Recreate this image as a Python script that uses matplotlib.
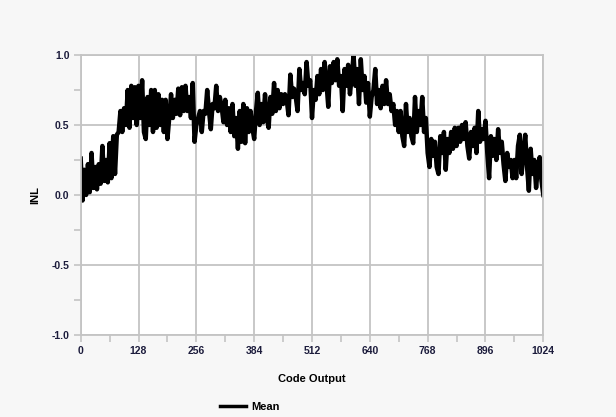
import matplotlib
matplotlib.use("Agg")
import matplotlib.pyplot as plt
from matplotlib.ticker import MultipleLocator
import numpy as np

# Code output positions (step of 4 codes) and read-off INL values
codes = list(range(0, 1025, 4))
inl = [
    0.26, -0.04, 0.18, 0.0, 0.22, 0.02, 0.3, 0.05, 0.2, 0.04, 0.22, 0.08, 0.35, 0.1, 0.25, 0.09,
    0.37, 0.12, 0.42, 0.15, 0.43, 0.45, 0.6, 0.45, 0.62, 0.5, 0.75, 0.48, 0.78, 0.55, 0.77, 0.5,
    0.78, 0.55, 0.82, 0.45, 0.4, 0.7, 0.5, 0.75, 0.45, 0.75, 0.48, 0.72, 0.5, 0.68, 0.45, 0.68,
    0.4, 0.55, 0.72, 0.55, 0.68, 0.58, 0.76, 0.57, 0.77, 0.6, 0.78, 0.6, 0.7, 0.55, 0.8, 0.38,
    0.5, 0.55, 0.6, 0.45, 0.6, 0.58, 0.75, 0.6, 0.47, 0.65, 0.62, 0.78, 0.6, 0.7, 0.63, 0.52,
    0.68, 0.5, 0.62, 0.45, 0.65, 0.42, 0.55, 0.33, 0.6, 0.38, 0.65, 0.37, 0.62, 0.45, 0.6, 0.48,
    0.4, 0.6, 0.73, 0.5, 0.65, 0.52, 0.72, 0.55, 0.48, 0.7, 0.58, 0.8, 0.6, 0.75, 0.62, 0.72,
    0.65, 0.72, 0.68, 0.57, 0.86, 0.7, 0.76, 0.7, 0.6, 0.9, 0.75, 0.8, 0.72, 0.95, 0.78, 0.82,
    0.55, 0.75, 0.68, 0.85, 0.72, 0.9, 0.75, 0.95, 0.8, 0.63, 0.92, 0.8, 0.95, 0.82, 0.97, 0.78,
    0.85, 0.6, 0.9, 0.78, 0.93, 0.72, 0.85, 1.0, 0.78, 0.9, 0.65, 0.97, 0.75, 0.85, 0.66, 0.8,
    0.56, 0.7, 0.75, 0.9, 0.65, 0.75, 0.62, 0.78, 0.65, 0.82, 0.65, 0.72, 0.6, 0.65, 0.5, 0.6,
    0.45, 0.6, 0.42, 0.35, 0.65, 0.45, 0.55, 0.42, 0.37, 0.7, 0.45, 0.6, 0.5, 0.7, 0.45, 0.55,
    0.3, 0.2, 0.4, 0.28, 0.38, 0.2, 0.15, 0.42, 0.3, 0.45, 0.18, 0.4, 0.3, 0.45, 0.33, 0.48,
    0.35, 0.48, 0.38, 0.5, 0.4, 0.52, 0.35, 0.26, 0.45, 0.35, 0.48, 0.3, 0.6, 0.38, 0.47, 0.4,
    0.53, 0.3, 0.12, 0.42, 0.28, 0.4, 0.25, 0.47, 0.3, 0.38, 0.22, 0.1, 0.3, 0.2, 0.25, 0.12,
    0.25, 0.12, 0.35, 0.43, 0.15, 0.3, 0.43, 0.2, 0.03, 0.33, 0.15, 0.25, 0.05, 0.2, 0.27, 0.1,
    0.0,
]
x_ticks = [0, 128, 256, 384, 512, 640, 768, 896, 1024]
y_ticks = [-1.0, -0.5, 0.0, 0.5, 1.0]
series_name = "Mean"

plt.rcParams['font.family'] = ['Liberation Sans', 'DejaVu Sans']
plt.rcParams['font.weight'] = 'bold'

fig = plt.figure(figsize=(6.16, 4.17), dpi=100, facecolor='#f7f7f7')
ax = fig.add_axes([0.131, 0.197, 0.751, 0.671])
ax.set_facecolor('white')

line, = ax.plot(codes, inl, color='black', lw=3.2, solid_joinstyle='round', label=series_name)

ax.set_xlim(0, 1024)
ax.set_ylim(-1.0, 1.0)
ax.set_xticks(x_ticks)
ax.set_yticks(y_ticks)
ax.set_yticklabels([f"{v:.1f}" for v in y_ticks])
ax.xaxis.set_minor_locator(MultipleLocator(64))
ax.yaxis.set_minor_locator(MultipleLocator(0.25))

grid_c = '#c4c4c4'
ax.grid(True, which='major', color=grid_c, lw=1.3)
ax.set_axisbelow(True)
for s in ax.spines.values():
    s.set_color(grid_c)
    s.set_linewidth(1.3)

label_c = '#1c1c3c'
ax.tick_params(which='both', direction='out', color=grid_c, width=1.2, length=5,
               labelsize=7.5, labelcolor=label_c, pad=3)
ax.tick_params(which='minor', length=5)

ax.set_xlabel("Code Output", fontsize=8, fontweight='bold', color='black', labelpad=13)
ax.set_ylabel("INL", fontsize=8, fontweight='bold', color='black', labelpad=8)

fig.legend(handles=[line], labels=[series_name], loc='center', bbox_to_anchor=(0.405, 0.024),
           frameon=False, fontsize=8, handlelength=2.4, handletextpad=0.4, borderpad=0)
for t in fig.legends[0].get_texts():
    t.set_fontweight('bold')
fig.legends[0].get_lines()[0].set_linewidth(2.5)

fig.savefig("out.png", dpi=100, facecolor=fig.get_facecolor())
